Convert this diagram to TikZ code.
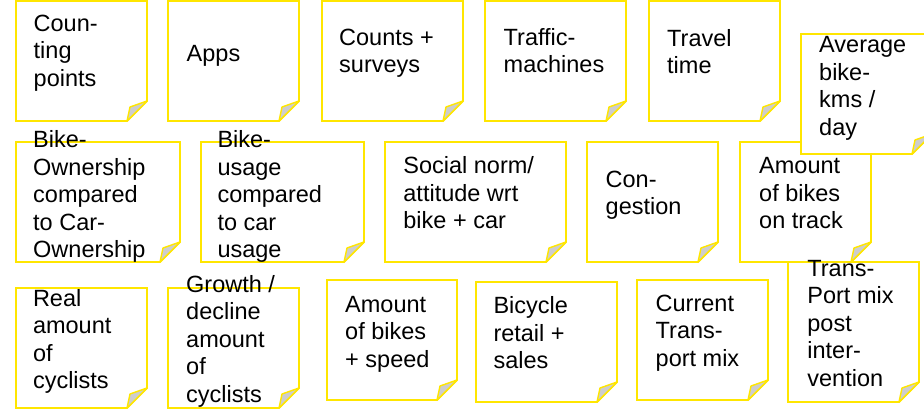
\documentclass[tikz,border=0pt]{standalone}
\usepackage{fontspec}
\setmainfont{Liberation Sans}
\usepackage{tikz}
\definecolor{postit}{RGB}{255,230,0}
\definecolor{curl}{RGB}{205,205,205}
\tikzset{note/.style={draw=postit,fill=white,line width=1.8pt,line join=miter},
  fold/.style={draw=postit,fill=curl,line width=1.4pt,line join=round},
  notetext/.style={anchor=base west,inner sep=0pt,font=\fontsize{23.5}{27.5}\selectfont}}
% sticky note: left, top, right, bottom
\newcommand{\postit}[4]{%
  \filldraw[note] (#1,#2) -- (#3,#2) -- (#3,#4-20) -- (#3-20,#4) -- (#1,#4) -- cycle;
  \filldraw[fold] (#3-20,#4) -- (#3-17,#4-14) -- (#3,#4-20) -- cycle;}
\newcommand{\notelines}[1]{\begin{tabular}[t]{@{}l@{}}#1\end{tabular}}

\begin{document}
\begin{tikzpicture}[x=1pt,y=-1pt]
\clip (0,0) rectangle (924,410);

% first row
\postit{16}{1}{147}{121}
\node[notetext] (counting) at (33.5,31) {\notelines{Coun-\\ting\\points}};
\postit{168}{1}{299}{121}
\node[notetext] (apps) at (186.5,61) {\notelines{Apps}};
\postit{322}{1}{463}{121}
\node[notetext] (counts) at (339,45) {\notelines{Counts +\\surveys}};
\postit{485}{1}{626}{121}
\node[notetext] (traffic) at (503.5,45) {\notelines{Traffic-\\machines}};
\postit{649}{1}{780}{121}
\node[notetext] (travel) at (667,46) {\notelines{Travel\\time}};

% second row
\postit{16}{142}{180}{262}
\node[notetext] (ownership) at (33,147.5) {\notelines{Bike-\\Ownership\\compared\\to Car-\\Ownership}};
\postit{201}{142}{364}{262}
\node[notetext] (usage) at (217.3,147.5) {\notelines{Bike-\\usage\\compared\\to car\\usage}};
\postit{385}{142}{566}{262}
\node[notetext] (norm) at (403.2,173.5) {\notelines{Social norm/\\attitude wrt\\bike + car}};
\postit{587}{142}{718}{262}
\node[notetext] (congestion) at (605.5,187) {\notelines{Con-\\gestion}};
\postit{740}{142}{871}{262}
\node[notetext] (track) at (759,173.5) {\notelines{Amount\\of bikes\\on track}};

\postit{801}{34}{932}{154}
\node[notetext] (average) at (819,52.8) {\notelines{Average\\bike-\\kms /\\day}};

% third row
\postit{16}{288}{147}{408}
\node[notetext] (real) at (32.8,306) {\notelines{Real\\amount\\of\\cyclists}};
\postit{168}{288}{299}{408}
\node[notetext] (growth) at (186,292) {\notelines{Growth /\\decline\\amount\\of\\cyclists}};
\postit{327}{280}{457}{400}
\node[notetext] (speed) at (345,312) {\notelines{Amount\\of bikes\\+ speed}};
\postit{476}{282}{617}{402}
\node[notetext] (retail) at (493.3,313.5) {\notelines{Bicycle\\retail +\\sales}};
\postit{637}{280}{768}{400}
\node[notetext] (current) at (655.5,311) {\notelines{Current\\Trans-\\port mix}};
\postit{788}{262}{919}{402}
\node[notetext] (post) at (807.2,276) {\notelines{Trans-\\Port mix\\post\\inter-\\vention}};

\end{tikzpicture}
\end{document}
